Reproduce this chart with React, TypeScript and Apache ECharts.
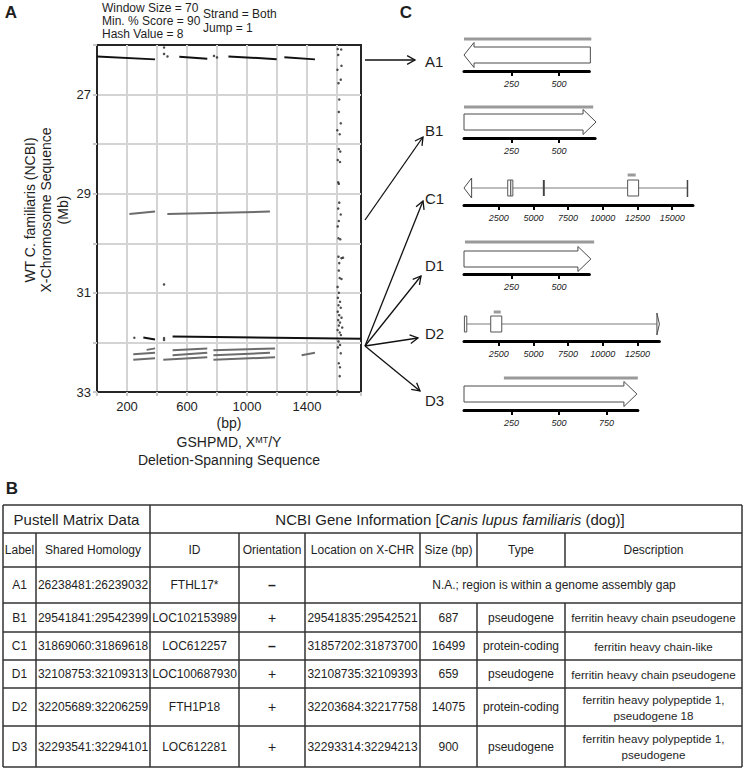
import React, { useEffect, useRef } from 'react';
import * as echarts from 'echarts';

const FONT = '"Liberation Sans", Arial, Helvetica, sans-serif';
const INK = '#1e1e1e';

// ---------------- Panel A: Pustell matrix data ----------------
const xTickLabels = [200, 600, 1000, 1400];
const yTickLabels = [27, 29, 31, 33];

// [x1 (bp), y1 (Mb), x2 (bp), y2 (Mb)]
const blackMatches = [
  [0, 26.23, 387, 26.29],
  [549, 26.235, 735, 26.275],
  [876, 26.23, 1198, 26.285],
  [1249, 26.245, 1453, 26.29],
  [309, 31.9, 387, 31.94],
  [504, 31.88, 1760, 31.925],
];
const grayMatches = [
  [216, 29.41, 387, 29.36],
  [469, 29.41, 1153, 29.36],
  [331, 32.15, 387, 32.12],
  [242, 32.24, 387, 32.21],
  [242, 32.35, 387, 32.32],
  [504, 32.16, 735, 32.12],
  [504, 32.26, 735, 32.21],
  [442, 32.35, 735, 32.3],
  [776, 32.16, 1187, 32.12],
  [776, 32.26, 1153, 32.21],
  [776, 32.35, 1187, 32.3],
  [1364, 32.26, 1453, 32.21],
];
const isolatedDots = [
  [447, 26.05], [447, 26.18], [470, 26.23], [780, 26.22], [800, 26.25],
  [249, 31.905], [447, 31.91], [447, 31.95], [447, 30.83],
];
const columnDots = [
  [1605, 26.08], [1628, 26.09], [1608, 26.2], [1630, 26.42], [1603, 26.5], [1625, 26.7],
  [1610, 26.77], [1615, 27.1], [1612, 27.35], [1625, 27.58], [1602, 27.72], [1618, 27.8],
  [1612, 28.1], [1622, 28.15], [1605, 28.32], [1620, 28.36], [1608, 28.77], [1612, 28.8],
  [1615, 29.18], [1608, 29.3], [1625, 29.42], [1612, 29.55], [1605, 29.66], [1610, 29.9],
  [1622, 29.92], [1610, 30.27], [1630, 30.3], [1640, 30.29], [1615, 30.4], [1612, 30.55],
  [1618, 30.7], [1630, 30.72], [1604, 30.88], [1612, 31.0], [1606, 31.1], [1620, 31.18],
  [1610, 31.25], [1625, 31.3], [1605, 31.38], [1615, 31.45], [1630, 31.5], [1608, 31.55],
  [1620, 31.6], [1612, 31.66], [1635, 31.7], [1604, 31.75], [1618, 31.8], [1626, 31.85],
  [1610, 31.98], [1620, 32.05], [1606, 32.1], [1625, 32.22], [1612, 32.42], [1620, 32.5],
  [1618, 32.68], [1606, 32.98],
];

// ---------------- Panel C: gene models ----------------
const BAR = 0, ARROW_R = 1, ARROW_L = 2, EXON = 3, INTRON = 4, CDS = 5, HEAD_L = 6, HEAD_R = 7, END = 8;
const geneLabels = ['A1', 'B1', 'C1', 'D1', 'D2', 'D3'];
const geneLengths = [660, 690, 16499, 660, 14075, 915];
const geneTicks = [
  [250, 500],
  [250, 500],
  [2500, 5000, 7500, 10000, 12500, 15000],
  [250, 500],
  [2500, 5000, 7500, 10000, 12500],
  [250, 500, 750],
];
// [start bp, end bp, feature kind]
const geneA1 = [[0, 670, BAR], [0, 665, ARROW_L]];
const geneB1 = [[0, 680, BAR], [0, 695, ARROW_R]];
const geneC1 = [
  [11790, 12370, BAR], [550, 16100, INTRON], [0, 550, HEAD_L],
  [3150, 3370, EXON], [3370, 3520, EXON], [5680, 5820, CDS], [11790, 12580, EXON], [16100, 16100, END],
];
const geneD1 = [[5, 685, BAR], [0, 668, ARROW_R]];
const geneD2 = [
  [2140, 2645, BAR], [200, 13900, INTRON], [30, 200, EXON], [1925, 2720, EXON], [13900, 14075, HEAD_R],
];
const geneD3 = [[210, 915, BAR], [0, 910, ARROW_R]];
const geneFeatures = [geneA1, geneB1, geneC1, geneD1, geneD2, geneD3];

// ---------------- Panel B: table ----------------
const tableTitleLeft = 'Pustell Matrix Data';
const tableTitleRight = 'NCBI Gene Information [{i|Canis lupus familiaris} (dog)]';
const tableHeader = ['Label', 'Shared Homology', 'ID', 'Orientation', 'Location on X-CHR', 'Size (bp)', 'Type', 'Description'];
const tableRows = [
  ['A1', '26238481:26239032', 'FTHL17*', '–', 'N.A.; region is within a genome assembly gap'],
  ['B1', '29541841:29542399', 'LOC102153989', '+', '29541835:29542521', '687', 'pseudogene', 'ferritin heavy chain pseudogene'],
  ['C1', '31869060:31869618', 'LOC612257', '–', '31857202:31873700', '16499', 'protein-coding', 'ferritin heavy chain-like'],
  ['D1', '32108753:32109313', 'LOC100687930', '+', '32108735:32109393', '659', 'pseudogene', 'ferritin heavy chain pseudogene'],
  ['D2', '32205689:32206259', 'FTH1P18', '+', '32203684:32217758', '14075', 'protein-coding', 'ferritin heavy polypeptide 1,\npseudogene 18'],
  ['D3', '32293541:32294101', 'LOC612281', '+', '32293314:32294213', '900', 'pseudogene', 'ferritin heavy polypeptide 1,\npseudogene'],
];

// ---------------- layout constants ----------------
const PLOT = { left: 97, top: 45, width: 264, height: 347 };
const geneCenters = [55, 122, 188, 259, 324, 394];
const geneAxisY = [71, 138, 205, 274, 341, 410];
const genePxPerBp = [0.19, 0.19, 0.01388, 0.19, 0.01388, 0.19];
const geneBarOffset = [-16, -15, -13, -17, -12, -16];
const GENE_LEFT = 464;
const colX = [3, 36, 150, 239, 305, 420, 477, 565, 742];
const rowY = [505, 533, 567, 603, 632, 660, 688, 726, 767];

function makeGeneRenderer(barOffset: number) {
  return (_params: any, api: any) => {
    const s = api.value(0), e = api.value(1), k = api.value(2);
    const p0 = api.coord([s, 0]);
    const p1 = api.coord([e, 0]);
    const x0 = p0[0], x1 = p1[0], c = p0[1];
    const outline = { fill: '#fff', stroke: '#4a4a4a', lineWidth: 1 };
    if (k === BAR) {
      return { type: 'rect', shape: { x: x0, y: c + barOffset - 1.5, width: x1 - x0, height: 3 }, style: { fill: '#9a9a9a' } };
    }
    if (k === ARROW_R) {
      const xh = x1 - 13;
      return { type: 'polygon', shape: { points: [[x0, c - 8], [xh, c - 8], [xh, c - 12.5], [x1, c], [xh, c + 12.5], [xh, c + 8], [x0, c + 8]] }, style: outline };
    }
    if (k === ARROW_L) {
      const xh = x0 + 10;
      return { type: 'polygon', shape: { points: [[x1, c - 8], [xh, c - 8], [xh, c - 12.5], [x0, c], [xh, c + 12.5], [xh, c + 8], [x1, c + 8]] }, style: outline };
    }
    if (k === EXON) {
      return { type: 'rect', shape: { x: x0, y: c - 8, width: Math.max(1.5, x1 - x0), height: 16 }, style: { fill: '#fff', stroke: '#555', lineWidth: 1 } };
    }
    if (k === CDS) {
      return { type: 'rect', shape: { x: x0, y: c - 8, width: Math.max(1.5, x1 - x0), height: 16 }, style: { fill: '#444' } };
    }
    if (k === INTRON) {
      return { type: 'line', shape: { x1: x0, y1: c, x2: x1, y2: c }, style: { stroke: '#7a7a7a', lineWidth: 1 } };
    }
    if (k === HEAD_L) {
      return { type: 'polygon', shape: { points: [[x1, c - 10], [x0, c], [x1, c + 10]] }, style: outline };
    }
    if (k === HEAD_R) {
      return { type: 'polygon', shape: { points: [[x0, c - 11], [x1, c], [x0, c + 11]] }, style: outline };
    }
    return { type: 'line', shape: { x1: x0, y1: c - 8, x2: x0, y2: c + 9 }, style: { stroke: '#444', lineWidth: 1.5 } };
  };
}

function arrow(x1: number, y1: number, x2: number, y2: number) {
  const th = Math.atan2(y2 - y1, x2 - x1);
  const L = 9, phi = 0.5;
  const a = [x2 - L * Math.cos(th - phi), y2 - L * Math.sin(th - phi)];
  const b = [x2 - L * Math.cos(th + phi), y2 - L * Math.sin(th + phi)];
  return [
    { type: 'line', shape: { x1, y1, x2, y2 }, style: { stroke: '#111', lineWidth: 1.3 }, z: 50 },
    { type: 'polyline', shape: { points: [a, [x2, y2], b] }, style: { stroke: '#111', lineWidth: 1.3, fill: 'none' }, z: 50 },
  ];
}

function txt(x: number, y: number, text: string, extra: any = {}) {
  return {
    type: 'text', x, y, z: 60,
    style: { text, fontFamily: FONT, fontSize: 12, fill: INK, align: 'center', verticalAlign: 'middle', ...extra },
  };
}

function buildOption() {
  const grids: any[] = [{ ...PLOT, show: true, borderColor: '#262626', borderWidth: 2, backgroundColor: 'transparent' }];
  const xAxes: any[] = [{
    gridIndex: 0, type: 'value', min: 0, max: 1760, interval: 200,
    axisLine: { show: true, onZero: false, lineStyle: { color: '#262626', width: 2 } },
    axisTick: { show: true, length: 4, lineStyle: { color: '#c8c8c8', width: 2 } },
    axisLabel: {
      customValues: xTickLabels, fontSize: 13, color: INK, fontFamily: FONT, margin: 8,
      formatter: (v: number) => (xTickLabels.includes(v) ? String(v) : ''),
    },
    splitLine: { show: true, showMinLine: false, showMaxLine: false, lineStyle: { color: '#d4d4d4', width: 2 } },
    name: '(bp)', nameLocation: 'middle', nameGap: 24,
    nameTextStyle: { fontSize: 14, color: INK, fontFamily: FONT },
  }];
  const yAxes: any[] = [{
    gridIndex: 0, type: 'value', min: 26, max: 33, interval: 1, inverse: true,
    axisLine: { show: true, onZero: false, lineStyle: { color: '#262626', width: 2 } },
    axisTick: { show: true, length: 4, lineStyle: { color: '#c8c8c8', width: 2 } },
    axisLabel: {
      customValues: yTickLabels, fontSize: 13, color: INK, fontFamily: FONT, margin: 6,
      formatter: (v: number) => (yTickLabels.includes(v) ? String(v) : ''),
    },
    splitLine: { show: true, showMinLine: false, showMaxLine: false, lineStyle: { color: '#d4d4d4', width: 2 } },
  }];
  const series: any[] = [
    {
      type: 'lines', coordinateSystem: 'cartesian2d', xAxisIndex: 0, yAxisIndex: 0, silent: true, z: 3,
      data: grayMatches.map(([a, b, c, d]) => ({ coords: [[a, b], [c, d]] })),
      lineStyle: { color: '#6c6c6c', width: 2, opacity: 1 },
    },
    {
      type: 'lines', coordinateSystem: 'cartesian2d', xAxisIndex: 0, yAxisIndex: 0, silent: true, z: 4,
      data: blackMatches.map(([a, b, c, d]) => ({ coords: [[a, b], [c, d]] })),
      lineStyle: { color: '#111', width: 2, opacity: 1 },
    },
    {
      type: 'scatter', xAxisIndex: 0, yAxisIndex: 0, silent: true, z: 5,
      data: [...isolatedDots, ...columnDots], symbolSize: 2.5,
      itemStyle: { color: '#222' },
    },
  ];

  geneLabels.forEach((_, i) => {
    const top = geneCenters[i] - 20;
    const height = geneAxisY[i] - top;
    grids.push({ left: GENE_LEFT, top, width: geneLengths[i] * genePxPerBp[i], height, show: false });
    xAxes.push({
      gridIndex: i + 1, type: 'value', min: 0, max: geneLengths[i], position: 'bottom',
      axisLine: { show: true, onZero: false, lineStyle: { color: '#000', width: 3 } },
      axisTick: { show: true, customValues: geneTicks[i], length: 5, lineStyle: { color: '#000', width: 2 } },
      axisLabel: {
        customValues: geneTicks[i], fontSize: 9, fontStyle: 'italic', color: '#222', fontFamily: FONT, margin: 8,
        formatter: (v: number) => (geneTicks[i].includes(v) ? String(v) : ''),
      },
      splitLine: { show: false },
    });
    yAxes.push({ gridIndex: i + 1, type: 'value', min: -20, max: geneAxisY[i] - geneCenters[i], inverse: true, show: false });
    series.push({
      type: 'custom', xAxisIndex: i + 1, yAxisIndex: i + 1, silent: true, z: 5,
      encode: { x: [0, 1] },
      data: geneFeatures[i],
      renderItem: makeGeneRenderer(geneBarOffset[i]),
    });
  });

  const graphic: any[] = [];
  // panel letters
  graphic.push(txt(11, 12, 'A', { fontSize: 17, fontWeight: 'bold' }));
  graphic.push(txt(406, 12, 'C', { fontSize: 17, fontWeight: 'bold' }));
  graphic.push(txt(12, 488, 'B', { fontSize: 17, fontWeight: 'bold' }));
  // parameters
  graphic.push(txt(102, 7.5, 'Window Size = 70', { align: 'left' }));
  graphic.push(txt(102, 21, 'Min. % Score = 90', { align: 'left' }));
  graphic.push(txt(102, 34, 'Hash Value = 8', { align: 'left' }));
  graphic.push(txt(203, 14, 'Strand = Both', { align: 'left' }));
  graphic.push(txt(203, 27.5, 'Jump = 1', { align: 'left' }));
  // axis titles
  graphic.push({
    type: 'text', x: 46, y: 210, rotation: Math.PI / 2, z: 60,
    style: {
      text: 'WT C. familiaris (NCBI)\nX-Chromosome Sequence\n(Mb)', fontFamily: FONT, fontSize: 14,
      lineHeight: 16.5, fill: INK, align: 'center', verticalAlign: 'middle',
    },
  });
  graphic.push(txt(229, 442, 'GSHPMD, X{sup|MT}/Y', {
    fontSize: 14,
    rich: { sup: { fontSize: 9, fontFamily: FONT, fill: INK, verticalAlign: 'top', lineHeight: 9 } },
  }));
  graphic.push(txt(229, 460, 'Deletion-Spanning Sequence', { fontSize: 14 }));
  // gene labels and arrows
  const labelY = [61, 130, 198, 265, 333, 400];
  geneLabels.forEach((g, i) => graphic.push(txt(425, labelY[i], g, { fontSize: 15, align: 'left' })));
  graphic.push(...arrow(365, 60, 415, 60));
  graphic.push(...arrow(365, 220, 423, 137));
  graphic.push(...arrow(365, 346, 423, 201));
  graphic.push(...arrow(365, 346, 421, 276));
  graphic.push(...arrow(365, 346, 418, 338));
  graphic.push(...arrow(365, 346, 420, 391));

  // table
  const stroke = { stroke: '#333', lineWidth: 1.5 };
  const L = colX[0], R = colX[colX.length - 1];
  rowY.forEach((y) => graphic.push({ type: 'line', shape: { x1: L, y1: y, x2: R, y2: y }, style: stroke, z: 40 }));
  const top = rowY[0], bottom = rowY[rowY.length - 1];
  [L, colX[2], R].forEach((x) => graphic.push({ type: 'line', shape: { x1: x, y1: top, x2: x, y2: bottom }, style: stroke, z: 40 }));
  [colX[1], colX[3], colX[4]].forEach((x) => graphic.push({ type: 'line', shape: { x1: x, y1: rowY[1], x2: x, y2: bottom }, style: stroke, z: 40 }));
  [colX[5], colX[6], colX[7]].forEach((x) => {
    graphic.push({ type: 'line', shape: { x1: x, y1: rowY[1], x2: x, y2: rowY[2] }, style: stroke, z: 40 });
    graphic.push({ type: 'line', shape: { x1: x, y1: rowY[3], x2: x, y2: bottom }, style: stroke, z: 40 });
  });
  const midY = (r: number) => (rowY[r] + rowY[r + 1]) / 2;
  const midX = (c: number) => (colX[c] + colX[c + 1]) / 2;
  graphic.push(txt((colX[0] + colX[2]) / 2, midY(0), tableTitleLeft, { fontSize: 15 }));
  graphic.push(txt(450, midY(0), tableTitleRight, {
    fontSize: 15,
    rich: { i: { fontStyle: 'italic', fontSize: 15, fontFamily: FONT, fill: INK } },
  }));
  tableHeader.forEach((h, c) => graphic.push(txt(midX(c), midY(1), h)));
  tableRows.forEach((row, r) => {
    if (row.length === 5) {
      row.slice(0, 4).forEach((cell, c) => graphic.push(txt(midX(c), midY(r + 2), cell, cell === '–' ? { fontSize: 14, fontWeight: 'bold' } : {})));
      graphic.push(txt(554, midY(r + 2), row[4]));
    } else {
      row.forEach((cell, c) => graphic.push(txt(midX(c), midY(r + 2), cell, {
        lineHeight: 16,
        ...(c === 7 ? { fontSize: 11.6 } : {}),
        ...(cell === '–' ? { fontSize: 14, fontWeight: 'bold' } : {}),
        ...(cell === '+' ? { fontSize: 14 } : {}),
      })));
    }
  });

  return {
    animation: false,
    backgroundColor: '#fff',
    textStyle: { fontFamily: FONT },
    grid: grids,
    xAxis: xAxes,
    yAxis: yAxes,
    series,
    graphic,
  };
}

export default function App() {
  const ref = useRef<HTMLDivElement>(null);
  useEffect(() => {
    document.body.style.margin = '0';
    const chart = echarts.init(ref.current!, null, { renderer: 'svg' });
    chart.setOption(buildOption() as any);
    return () => chart.dispose();
  }, []);
  return <div ref={ref} style={{ width: 747, height: 773 }} />;
}
